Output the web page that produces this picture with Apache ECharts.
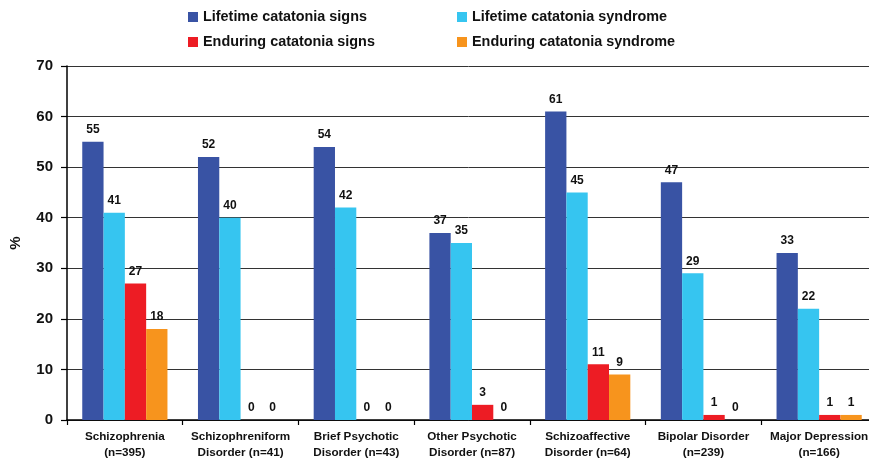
<!DOCTYPE html>
<html>
<head>
<meta charset="utf-8">
<script src="https://cdn.jsdelivr.net/npm/echarts@6/dist/echarts.min.js"></script>
<style>
  html, body { margin: 0; padding: 0; background: #fff; }
  #chart { width: 869px; height: 458px; }
</style>
</head>
<body>
<div id="chart"></div>
<script>
// Diagnostic groups (x-axis)
const categories = [
  'Schizophrenia\n(n=395)',
  'Schizophreniform\nDisorder (n=41)',
  'Brief Psychotic\nDisorder (n=43)',
  'Other Psychotic\nDisorder (n=87)',
  'Schizoaffective\nDisorder (n=64)',
  'Bipolar Disorder\n(n=239)',
  'Major Depression\n(n=166)'
];

// Percentages per group
const lifetimeSigns     = [55, 52, 54, 37, 61, 47, 33];
const lifetimeSyndrome  = [41, 40, 42, 35, 45, 29, 22];
const enduringSigns     = [27, 0, 0, 3, 11, 1, 1];
const enduringSyndrome  = [18, 0, 0, 0, 9, 0, 1];

const yTicks = [0, 10, 20, 30, 40, 50, 60, 70];

const seriesNames = [
  'Lifetime catatonia signs',
  'Lifetime catatonia syndrome',
  'Enduring catatonia signs',
  'Enduring catatonia syndrome'
];
const seriesData = [lifetimeSigns, lifetimeSyndrome, enduringSigns, enduringSyndrome];
const colors = ['#3953A4', '#36C5F0', '#ED1C24', '#F7941D'];

const FONT = 'Liberation Sans, Arial, sans-serif';

const chart = echarts.init(document.getElementById('chart'), null, { renderer: 'canvas' });

const legendText = { fontFamily: FONT, fontWeight: 'bold', fontSize: 14.4, color: '#111' };

chart.setOption({
  animation: false,
  backgroundColor: '#fff',
  legend: [
    {
      data: [seriesNames[0], seriesNames[2]],
      orient: 'vertical',
      left: 183,
      top: 5,
      itemWidth: 10,
      itemHeight: 10,
      itemGap: 11,
      icon: 'rect',
      textStyle: legendText
    },
    {
      data: [seriesNames[1], seriesNames[3]],
      orient: 'vertical',
      left: 452,
      top: 5,
      itemWidth: 10,
      itemHeight: 10,
      itemGap: 11,
      icon: 'rect',
      textStyle: legendText
    }
  ],
  grid: {
    left: 67, width: 810, top: 66, height: 354,
    containLabel: false, outerBoundsMode: 'none'
  },
  xAxis: {
    type: 'category',
    data: categories,
    axisLine: { lineStyle: { color: '#000', width: 1.5 } },
    axisTick: { show: true, length: 5, lineStyle: { color: '#000', width: 1.2 } },
    axisLabel: {
      fontFamily: FONT, fontWeight: 'bold', fontSize: 11.7, color: '#111',
      lineHeight: 16, margin: 9, interval: 0
    }
  },
  yAxis: {
    type: 'value',
    min: yTicks[0],
    max: yTicks[yTicks.length - 1],
    interval: 10,
    name: '%',
    nameLocation: 'middle',
    nameGap: 44,
    nameRotate: 90,
    nameTextStyle: { fontFamily: FONT, fontWeight: 'bold', fontSize: 15, color: '#111' },
    axisLine: { show: true, lineStyle: { color: '#000', width: 1.5 } },
    axisTick: { show: true, length: 6, lineStyle: { color: '#000', width: 1.2 } },
    axisLabel: { fontFamily: FONT, fontWeight: 'bold', fontSize: 15, color: '#111', margin: 14 },
    splitLine: { show: true, lineStyle: { color: '#333', width: 1 } }
  },
  series: seriesNames.map((name, i) => ({
    name,
    type: 'bar',
    data: seriesData[i],
    barWidth: 21.3,
    barGap: '0%',
    itemStyle: { color: colors[i] },
    label: {
      show: true,
      position: 'top',
      distance: 6,
      fontFamily: FONT,
      fontWeight: 'bold',
      fontSize: 12,
      color: '#111'
    }
  }))
});
</script>
</body>
</html>
